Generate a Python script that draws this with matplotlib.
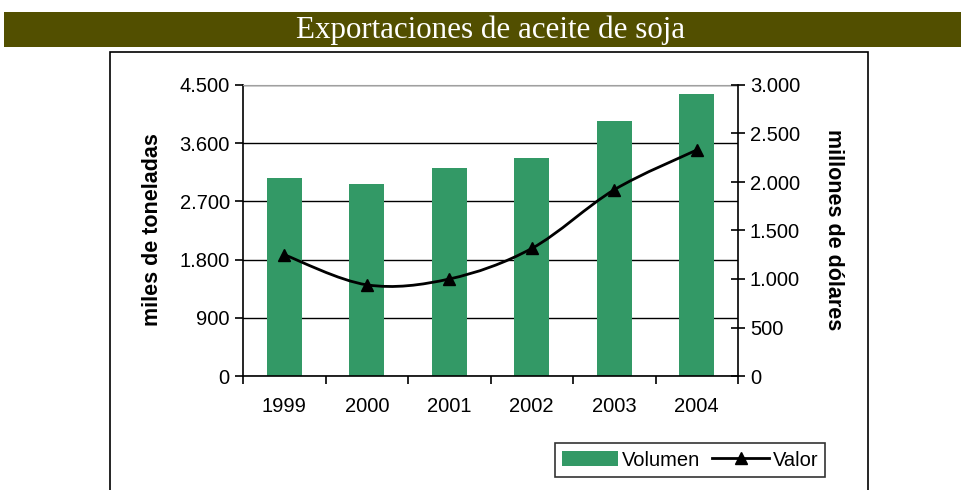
import matplotlib
matplotlib.use("Agg")
import matplotlib.pyplot as plt
from matplotlib.path import Path
from matplotlib.patches import PathPatch, Rectangle, Patch
from matplotlib.lines import Line2D
from matplotlib.ticker import FuncFormatter, FixedLocator

years = ['1999', '2000', '2001', '2002', '2003', '2004']
volumen = [3066, 2974, 3216, 3366, 3943, 4365]   # miles de toneladas
valor = [1250, 940, 1000, 1315, 1920, 2330]      # millones de dolares

plt.rcParams['font.family'] = ['Liberation Sans', 'DejaVu Sans']
FS = 14.5

def miles(v, pos):
    return f"{int(round(v)):,}".replace(",", ".")

fig = plt.figure(figsize=(9.61, 4.9), dpi=100)

# title band
fig.add_artist(Rectangle((4/961, 1-47/490), 1, 35/490, transform=fig.transFigure,
                         facecolor='#524F00', edgecolor='none'))
fig.text(491/961, 1-30/490, 'Exportaciones de aceite de soja', color='white',
         fontsize=22.3, family=['Liberation Serif'], ha='center', va='center')

# chart frame
fig.add_artist(Rectangle((110/961, -0.1), 758/961, 0.1+1-52/490, transform=fig.transFigure,
                         facecolor='none', edgecolor='black', lw=1.2))

ax = fig.add_axes([243/961, 1-376/490, 495/961, 291/490])
xs = list(range(len(years)))
ax.bar(xs, volumen, width=0.42, color='#339966', zorder=2)
ax.set_xlim(-0.5, len(years)-0.5)
ax.set_ylim(0, 4500)
ax.set_yticks([0, 900, 1800, 2700, 3600, 4500])
ax.yaxis.set_major_formatter(FuncFormatter(miles))
ax.grid(axis='y', color='black', lw=1, zorder=0)
ax.set_axisbelow(True)
ax.xaxis.set_major_locator(FixedLocator([x-0.5 for x in range(len(years)+1)]))
ax.xaxis.set_minor_locator(FixedLocator(xs))
ax.set_xticklabels([], minor=False)
ax.set_xticklabels(years, minor=True)
ax.tick_params(axis='x', which='major', length=6, width=1.2, direction='out')
ax.tick_params(axis='x', which='minor', length=0, pad=15, labelsize=FS)
ax.tick_params(axis='y', length=6, width=1.2, direction='out', labelsize=FS)
for s in ['left', 'bottom']:
    ax.spines[s].set_linewidth(1.2)
ax.spines['right'].set_visible(False)
ax.spines['top'].set_color('#a0a0a0')

ax2 = ax.twinx()
ax2.set_ylim(0, 3000)
ax2.set_yticks([0, 500, 1000, 1500, 2000, 2500, 3000])
ax2.yaxis.set_major_formatter(FuncFormatter(miles))
ax2.tick_params(axis='y', length=10, width=1.2, direction='inout', labelsize=FS)
for s in ['left', 'top', 'bottom']:
    ax2.spines[s].set_visible(False)
ax2.spines['right'].set_linewidth(1.2)

# smoothed line (Excel style bezier through the points)
pts = list(zip(xs, valor))
verts = [pts[0]]
codes = [Path.MOVETO]
for i in range(len(pts)-1):
    p0 = pts[i-1] if i > 0 else pts[i]
    p1 = pts[i]
    p2 = pts[i+1]
    p3 = pts[i+2] if i+2 < len(pts) else pts[i+1]
    c1 = (p1[0] + (p2[0]-p0[0])/6, p1[1] + (p2[1]-p0[1])/6)
    c2 = (p2[0] - (p3[0]-p1[0])/6, p2[1] - (p3[1]-p1[1])/6)
    verts += [c1, c2, p2]
    codes += [Path.CURVE4]*3
ax2.add_patch(PathPatch(Path(verts, codes), fill=False, edgecolor='black', lw=2, zorder=3))
ax2.plot(xs, valor, linestyle='none', marker='^', color='black', markersize=9, zorder=4)

fig.text(152/961, 1-230/490, 'miles de toneladas', rotation=90, fontsize=15.5,
         fontweight='bold', ha='center', va='center')
fig.text(833/961, 1-230/490, 'millones de dólares', rotation=-90, fontsize=15.5,
         fontweight='bold', ha='center', va='center')

handles = [Patch(facecolor='#339966', edgecolor='none'),
           Line2D([], [], color='black', lw=2, marker='^', markersize=8)]
leg = fig.legend(handles, ['Volumen', 'Valor'], ncol=2, loc='center',
                 bbox_to_anchor=(690/961, 1-460/490), fontsize=FS, frameon=True,
                 fancybox=False, edgecolor='black', handlelength=2.8,
                 handletextpad=0.2, columnspacing=0.6, borderpad=0.35)
leg.get_frame().set_linewidth(1.2)

fig.savefig('out.png', dpi=100)
